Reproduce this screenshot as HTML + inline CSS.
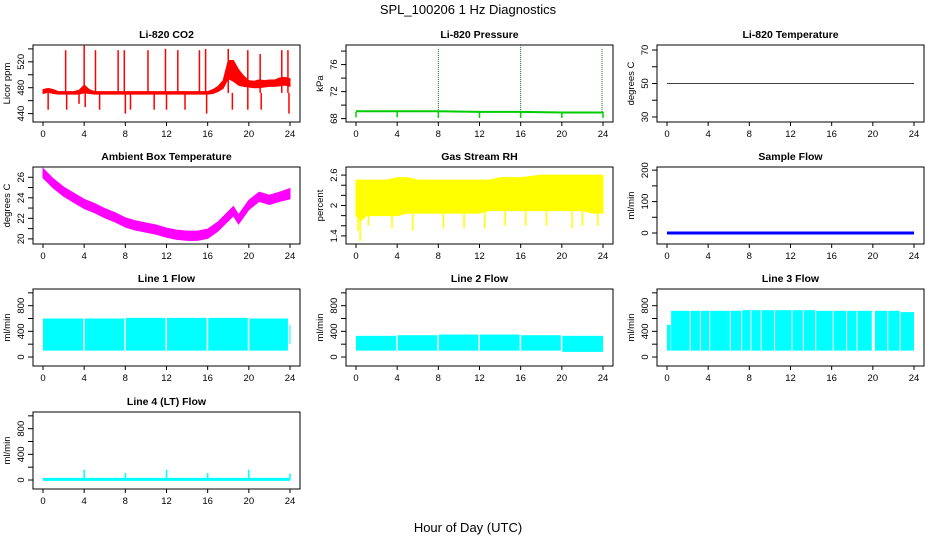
<!DOCTYPE html>
<html><head><meta charset="utf-8"><style>
body{margin:0;background:#fff;}
svg{display:block;font-family:"Liberation Sans",sans-serif;}
</style></head><body>
<svg id="c" width="936" height="540" viewBox="0 0 936 540">
<text x="468" y="14" text-anchor="middle" font-size="13">SPL_100206  1 Hz Diagnostics</text>
<text x="468" y="532" text-anchor="middle" font-size="13">Hour of Day (UTC)</text>
</svg>
<script>
const xTicks=[0,4,8,12,16,20,24];
// CO2
const co2Hours=[0,0.5,1,1.5,2,2.5,3,3.5,4,4.5,5,6,7,8,9,10,11,12,13,14,15,16,16.5,17,17.5,18,18.5,19,19.5,20,20.5,21,21.5,22,22.5,23,23.5,24];
const co2Mid=[474,476,474,472,472,472,472,473,478,474,472,472,472,472,472,472,472,472,472,472,472,472,474,478,485,508,506,496,490,486,485,486,486,487,487,489,490,488];
const co2Half=[3,3,3,2,2,2,2,3,6,3,2,2,2,2,2,2,2,2,2,2,2,2,3,4,6,14,16,12,8,5,5,6,5,5,5,6,6,6];
const co2SpikeHours=[2.2,4.0,5.1,7.3,7.9,10.2,11.9,13.1,15.2,15.8,18.0,19.9,21.1,23.2,23.8,0.5,2.3,3.5,4.1,5.5,8.0,8.5,10.8,12.0,13.8,15.9,18.4,19.9,21.2,23.9];
const co2SpikeVals=[538,545,538,538,538,538,540,538,538,540,540,538,532,538,538,446,446,455,450,446,440,446,446,446,446,440,446,446,446,440];
// Pressure
const presHours=[0,4,8,12,16,20,24];
const presVals=[69.1,69.1,69.1,69.0,69.0,68.9,68.9];
const presSpikeHours=[8,16,23.9];
const presSpikeVals=[78.5,78.8,78.5];
const presDipHours=[0,4,8,12,16,20,24];
const presDipVals=[68.2,68.2,68.1,68.1,68.1,68.1,68.1];
// Li-820 temperature
const tempHours=[0,24];
const tempVals=[50,50];
// Ambient box temperature
const ambHours=[0,1,2,3,4,5,6,7,8,9,10,11,12,13,14,15,16,17,18,18.5,19,20,21,22,23,24];
const ambMid=[26.4,25.4,24.6,24.0,23.4,23.0,22.5,22.1,21.6,21.3,21.1,20.9,20.6,20.4,20.3,20.3,20.5,21.2,22.2,22.7,21.9,23.3,24.1,23.8,24.1,24.4];
const ambHalf=[0.45,0.45,0.45,0.45,0.45,0.45,0.45,0.45,0.45,0.45,0.45,0.45,0.45,0.45,0.45,0.45,0.45,0.45,0.45,0.45,0.45,0.45,0.45,0.45,0.45,0.5];
// Gas stream RH
const rhHours=[0,0.5,1,2,3,4,5,6,8,10,12,13,14,16,18,20,22,23,24];
const rhHi=[2.5,2.5,2.5,2.5,2.5,2.55,2.55,2.5,2.5,2.5,2.5,2.5,2.55,2.55,2.6,2.6,2.6,2.6,2.6];
const rhLo=[1.8,1.7,1.8,1.8,1.8,1.8,1.85,1.85,1.85,1.85,1.85,1.9,1.9,1.9,1.9,1.9,1.9,1.85,1.85];
const rhDipHours=[0.2,0.4,1.2,3.5,5.5,8.5,10.5,12.5,14.5,16.5,18.5,21,22,23.5];
const rhDipVals=[1.5,1.3,1.6,1.55,1.5,1.55,1.55,1.55,1.6,1.6,1.6,1.55,1.6,1.6];
// Sample flow
const sampleHours=[0,24];
const sampleVals=[0,0];
// Line flows
const l1Start=[0,4.05,8.05,12.05,16.05,20.05,23.95];
const l1End=[3.9,7.9,11.9,15.9,19.9,23.8,24];
const l1Hi=[600,600,610,610,610,600,500];
const l1Lo=[100,100,100,100,100,100,200];
const l2Start=[0,4.05,8.05,12.05,16.05,20.05];
const l2End=[3.9,7.9,11.9,15.9,19.9,24];
const l2Hi=[330,340,350,350,340,330];
const l2Lo=[100,100,100,100,100,80];
const l3Start=[0,0.4,2.3,3.3,4.2,6.2,7.3,8.2,9.2,10.5,12.2,13.3,14.5,16.2,17.5,18.5,20.2,21.5,22.7];
const l3End=[0.35,2.2,3.2,4.1,6.1,7.2,8.1,9.1,10.4,12.1,13.2,14.4,16.1,17.4,18.4,19.9,21.4,22.6,24];
const l3Hi=[500,720,720,720,720,720,730,730,730,730,730,730,720,720,720,720,720,720,700];
const l3Lo=[100,100,100,100,100,100,100,100,100,100,100,100,100,100,100,100,100,100,100];
const l4Hours=[0,24];
const l4Vals=[10,10];
const l4SpikeHours=[4,8,12,16,20,24];
const l4SpikeVals=[160,110,160,110,160,100];

const svg=document.getElementById('c');
const NS='http://www.w3.org/2000/svg';
function mk(tag,attrs,parent){const e=document.createElementNS(NS,tag);for(const k in attrs)e.setAttribute(k,attrs[k]);(parent||svg).appendChild(e);return e;}
const colX=[33,346,657],rowY=[45,167,289,412],W=267,H=77;

function panel(col,row,title,ylab,ymin,ymax,ticks,labeled,name){
  const L=colX[col],T=rowY[row];
  const g=mk('g',{});
  
  
  const sx=h=>L+10+h*(W-20)/24;
  const sy=v=>T+H-(v-ymin)/(ymax-ymin)*H;
  const t=mk('text',{x:L+W/2,y:T-7,'text-anchor':'middle','font-size':'10.5','font-weight':'bold'},g);
  t.textContent=title;
  
  
  const yl=mk('text',{x:0,y:0,'text-anchor':'middle','font-size':'9.5',transform:`translate(${L-23},${T+H/2}) rotate(-90)`},g);
  yl.textContent=ylab;
  
  
  const yg=mk('g',{},g);
  
  
  mk('line',{x1:L,x2:L,y1:sy(ticks[0]),y2:sy(ticks[ticks.length-1]),stroke:'#000'},yg);
  ticks.forEach(v=>{
    mk('line',{x1:L-5,x2:L,y1:sy(v),y2:sy(v),stroke:'#000'},yg);
    if(labeled.includes(v)){
      const tl=mk('text',{x:0,y:0,'text-anchor':'middle','font-size':'9.5',transform:`translate(${L-9},${sy(v)}) rotate(-90)`},yg);
      tl.textContent=String(v);
    }
  });
  const xg=mk('g',{},g);
  
  
  mk('line',{x1:sx(0),x2:sx(24),y1:T+H,y2:T+H,stroke:'#000'},xg);
  xTicks.forEach(h=>{
    mk('line',{x1:sx(h),x2:sx(h),y1:T+H,y2:T+H+4,stroke:'#000'},xg);
    const tl=mk('text',{x:sx(h),y:T+H+15,'text-anchor':'middle','font-size':'9.5'},xg);
    tl.textContent=String(h);
  });
  const plot=mk('g',{},g);
  
  
  return {g,plot,sx,sy,L,T};
}
function frame(p){const r=mk('rect',{x:p.L,y:p.T,width:W,height:H,fill:'none',stroke:'#000'},p.g);}
function band(p,hs,mid,half,color){
  let pts=hs.map((h,i)=>p.sx(h)+','+p.sy(mid[i]+half[i]));
  pts=pts.concat(hs.map((h,i)=>p.sx(h)+','+p.sy(mid[i]-half[i])).reverse());
  mk('polygon',{points:pts.join(' '),fill:color,stroke:color,'stroke-width':'1'},p.plot);
}
function bandHL(p,hs,hi,lo,color){
  let pts=hs.map((h,i)=>p.sx(h)+','+p.sy(hi[i]));
  pts=pts.concat(hs.map((h,i)=>p.sx(h)+','+p.sy(lo[i])).reverse());
  mk('polygon',{points:pts.join(' '),fill:color,stroke:color},p.plot);
}
function spikes(p,hs,vals,base,color,w,dash){
  hs.forEach((h,i)=>{const a={x1:p.sx(h),x2:p.sx(h),y1:p.sy(base),y2:p.sy(vals[i]),stroke:color,'stroke-width':w||1.5};if(dash)a['stroke-dasharray']=dash;mk('line',a,p.plot);});
}
function line(p,hs,vals,color,w){
  mk('polyline',{points:hs.map((h,i)=>p.sx(h)+','+p.sy(vals[i])).join(' '),fill:'none',stroke:color,'stroke-width':w},p.plot);
}
function blocks(p,st,en,hi,lo,color){
  st.forEach((s,i)=>mk('rect',{x:p.sx(s),y:p.sy(hi[i]),width:Math.max(1,p.sx(en[i])-p.sx(s)),height:p.sy(lo[i])-p.sy(hi[i]),fill:color},p.plot));
}
const flowTicks=[0,200,400,600,800,1000],flowLab=[0,400,800];

let p=panel(0,0,'Li-820 CO2','Licor ppm',427,546,[440,460,480,500,520,540],[440,480,520],'co2');
band(p,co2Hours,co2Mid,co2Half,'#ff0000');
spikes(p,co2SpikeHours,co2SpikeVals,472,'#ff0000',1.5);frame(p);

p=panel(1,0,'Li-820 Pressure','kPa',67.5,78.9,[68,70,72,74,76,78],[68,72,76],'pressure');
spikes(p,presSpikeHours,presSpikeVals,69,'#006600',1,'1,1');
line(p,presHours,presVals,'#00cc00',2);
spikes(p,presDipHours,presDipVals,69,'#00cc00',1.5);frame(p);

p=panel(2,0,'Li-820 Temperature','degrees C',27,73,[30,40,50,60,70],[30,50,70],'li820-temp');
line(p,tempHours,tempVals,'#000',0.8);frame(p);

p=panel(0,1,'Ambient Box Temperature','degrees C',19.5,27,[20,21,22,23,24,25,26],[20,22,24,26],'ambient-temp');
band(p,ambHours,ambMid,ambHalf,'#ff00ff');frame(p);

p=panel(1,1,'Gas Stream RH','percent',1.24,2.76,[1.4,1.6,1.8,2.0,2.2,2.4,2.6],[1.4,2.0,2.6],'gas-rh');
bandHL(p,rhHours,rhHi,rhLo,'#ffff00');
spikes(p,rhDipHours,rhDipVals,1.9,'#ffff00',1.5);frame(p);

p=panel(2,1,'Sample Flow','ml/min',-35,210,[0,50,100,150,200],[0,100,200],'sample-flow');
line(p,sampleHours,sampleVals,'#0000ff',3);frame(p);

p=panel(0,2,'Line 1 Flow','ml/min',-140,1060,flowTicks,flowLab,'line1-flow');
blocks(p,l1Start,l1End,l1Hi,l1Lo,'#00ffff');frame(p);

p=panel(1,2,'Line 2 Flow','ml/min',-140,1060,flowTicks,flowLab,'line2-flow');
blocks(p,l2Start,l2End,l2Hi,l2Lo,'#00ffff');frame(p);

p=panel(2,2,'Line 3 Flow','ml/min',-140,1060,flowTicks,flowLab,'line3-flow');
blocks(p,l3Start,l3End,l3Hi,l3Lo,'#00ffff');frame(p);

p=panel(0,3,'Line 4 (LT) Flow','ml/min',-140,1060,flowTicks,flowLab,'line4-flow');
line(p,l4Hours,l4Vals,'#00ffff',3);
spikes(p,l4SpikeHours,l4SpikeVals,10,'#00ffff',1.5);frame(p);
</script>
</body></html>
